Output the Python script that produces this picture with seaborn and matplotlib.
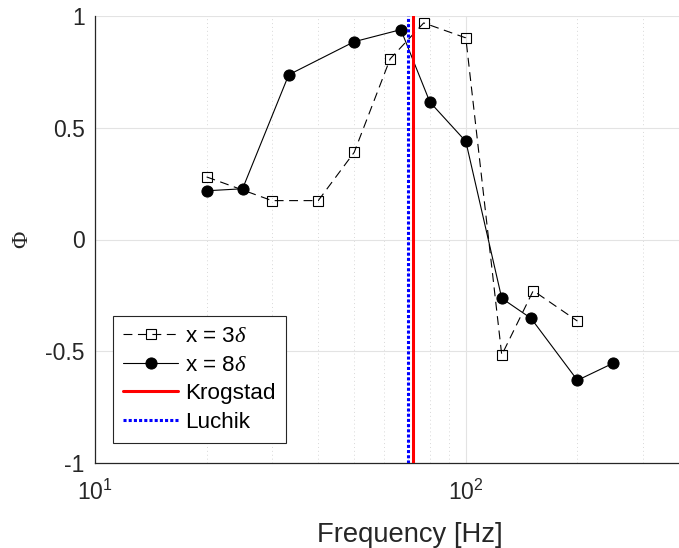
import numpy as np
import pandas as pd
import matplotlib
matplotlib.use("Agg")
import matplotlib.pyplot as plt
import matplotlib.ticker as mticker
import seaborn as sns

# Data
freq_3d = [20, 30, 40, 50, 62.5, 77, 100, 125, 152, 200]
phi_3d = [0.28, 0.174, 0.174, 0.39, 0.808, 0.969, 0.902, -0.517, -0.229, -0.365]

freq_8d = [20, 25, 33.3, 50, 66.8, 80, 100, 125, 150, 200, 250]
phi_8d = [0.218, 0.227, 0.737, 0.885, 0.939, 0.615, 0.439, -0.263, -0.353, -0.630, -0.553]

f_krogstad = 72
f_luchik = 70

yticks = [-1, -0.5, 0, 0.5, 1]
ytick_labels = ["-1", "-0.5", "0", "0.5", "1"]

sns.set_style("white")
plt.rcParams["font.family"] = ["Liberation Sans", "DejaVu Sans"]
plt.rcParams["mathtext.fontset"] = "custom"
plt.rcParams["mathtext.rm"] = "Liberation Sans"
plt.rcParams["mathtext.it"] = "Liberation Serif:italic"
plt.rcParams["axes.unicode_minus"] = False

df3 = pd.DataFrame({"f": freq_3d, "phi": phi_3d})
df8 = pd.DataFrame({"f": freq_8d, "phi": phi_8d})

fig = plt.figure(figsize=(6.79, 5.48), dpi=100)
ax = fig.add_axes([95 / 679, 85 / 548, 630 / 679, 447 / 548])

text_col = "#262626"

sns.lineplot(data=df3, x="f", y="phi", ax=ax, color="black", linestyle=(0, (8, 5)),
             linewidth=0.8, marker="s", markersize=6.5, markerfacecolor="none",
             markeredgecolor="black", markeredgewidth=0.8, sort=False,
             label=r"x = 3$\it{\delta}$")
sns.lineplot(data=df8, x="f", y="phi", ax=ax, color="black", linestyle="-",
             linewidth=0.8, marker="o", markersize=8, markerfacecolor="black",
             markeredgecolor="black", sort=False, label=r"x = 8$\it{\delta}$")
ax.axvline(f_krogstad, color="#ff0000", linewidth=2.2, label="Krogstad", zorder=3)
ax.axvline(f_luchik, color="#0000ff", linewidth=2.2, linestyle=(0, (1, 0.7)),
           label="Luchik", zorder=3)

ax.set_xscale("log")
ax.set_xlim(10, 500)
ax.set_ylim(-1, 1)
ax.set_yticks(yticks)
ax.set_yticklabels(ytick_labels)
ax.xaxis.set_major_locator(mticker.LogLocator(base=10))
ax.xaxis.set_minor_locator(mticker.LogLocator(base=10, subs=np.arange(2, 10)))
ax.xaxis.set_minor_formatter(mticker.NullFormatter())

ax.grid(True, which="major", color="#e3e3e3", linewidth=0.8, linestyle="-")
ax.grid(True, which="minor", axis="x", color="#d8d8d8", linewidth=0.7,
        linestyle=(0, (1, 3)))
ax.set_axisbelow(True)

for s in ["top", "right"]:
    ax.spines[s].set_visible(False)
for s in ["left", "bottom"]:
    ax.spines[s].set_color(text_col)
    ax.spines[s].set_linewidth(0.9)

ax.tick_params(which="major", direction="in", length=5, width=0.8, colors=text_col,
               labelsize=16.5)
ax.tick_params(axis="y", which="major", pad=7.5)
ax.tick_params(axis="x", which="major", pad=12)
ax.tick_params(which="minor", direction="in", length=3, width=0.7, colors=text_col)

ax.set_xlabel("Frequency [Hz]", fontsize=19.7, color=text_col, labelpad=12)
ax.set_ylabel("Φ", fontsize=17, color=text_col, labelpad=9,
              family=["Liberation Serif", "DejaVu Serif"])

leg = ax.legend(loc="lower left", bbox_to_anchor=(0.0286, 0.0447), borderaxespad=0,
                fontsize=16.2, fancybox=False, framealpha=1, edgecolor=text_col,
                handlelength=2.45, handletextpad=0.3, labelspacing=0.34,
                borderpad=0.45)
leg.get_frame().set_linewidth(0.8)
for t in leg.get_texts():
    t.set_color("black")

fig.savefig("out.png", dpi=100)
